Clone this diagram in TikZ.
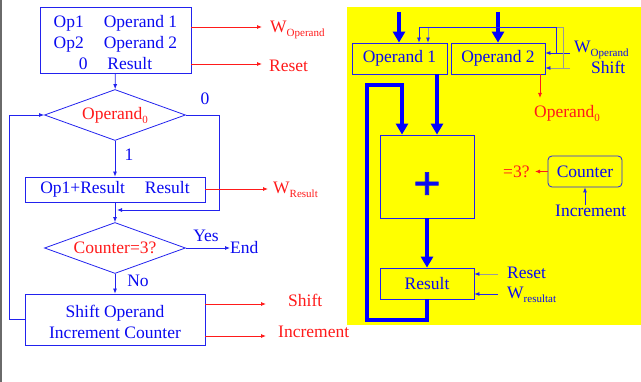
\documentclass[tikz,border=0pt]{standalone}
\usepackage{fontspec}
\setmainfont{Liberation Serif}
\newfontface\plusface{Liberation Serif Bold}[FakeBold=1.5]
\usetikzlibrary{arrows.meta,positioning,shapes.geometric,calc}
\definecolor{flowblue}{HTML}{2222EE}
\definecolor{textblue}{HTML}{0A0AF0}
\definecolor{sigred}{HTML}{FF1A1A}
\definecolor{padyellow}{HTML}{FFFF00}
\definecolor{wiregray}{HTML}{9A9A9A}
\definecolor{edgegray}{HTML}{6A6A6A}
\newcommand{\lowidx}[1]{\raisebox{-4pt}{\fontsize{11}{11}\selectfont #1}}

\begin{document}
\begin{tikzpicture}[x=1pt,y=-1pt,
  txt/.style={font=\fontsize{17.5}{21}\selectfont},
  stepbox/.style={txt,draw=flowblue,line width=0.8pt,text=textblue,inner sep=0pt,align=center},
  test/.style={txt,diamond,shape aspect=2.8,draw=flowblue,line width=0.8pt,text=sigred,inner sep=0pt,minimum width=141pt,minimum height=51pt},
  reg/.style={txt,draw=flowblue,line width=0.8pt,text=textblue,inner sep=0pt,minimum width=94pt,minimum height=31pt},
  flow/.style={draw=flowblue,line width=0.8pt,-{Latex[length=5pt,width=4pt]}},
  sig/.style={draw=sigred,line width=0.8pt,-{Latex[length=5pt,width=4pt]}},
  ctl/.style={draw=flowblue,line width=0.8pt,-{Latex[length=5pt,width=4pt]}},
  ctlgray/.style={draw=wiregray,line width=0.8pt,-{Latex[length=5pt,width=4pt,color=flowblue]}},
  bus/.style={draw=blue,line width=4pt,-{Triangle[length=11pt,width=12pt]}},
  bluelbl/.style={txt,text=textblue,inner sep=0pt},
  redlbl/.style={txt,text=sigred,inner sep=0pt}
]
\useasboundingbox (0,0) rectangle (641,382);
\draw[edgegray,line width=2pt] (1,0) -- (1,382);
\fill[padyellow] (347,7) rectangle (641,325);

% flowchart
\node[stepbox,minimum width=151pt,minimum height=66pt] (init) at (115.5,40) {\rule{0pt}{17pt}Op1\hspace{20pt}Operand 1\\Op2\hspace{20pt}Operand 2\\0\hspace{20pt}Result};
\node[test] (odd) at (115,115) {Operand\lowidx{0}};
\node[stepbox,minimum width=180pt,minimum height=25pt] (acc) at (115,189.5) {Op1+Result\hspace{20pt}Result};
\node[test] (cnt) at (115,248) {Counter=3?};
\node[stepbox,minimum width=180pt,minimum height=51pt] (shift) at (115,319.5) {\rule{0pt}{17pt}Shift Operand\\Increment Counter};

\node[bluelbl] (zero) at (205,99) {0};
\node[bluelbl] (one) at (129,155) {1};
\node[bluelbl] (yes) at (206,236) {Yes};
\node[bluelbl,anchor=west] (fin) at (230,248) {End};
\node[bluelbl] (no) at (138,281) {No};

\coordinate (join) at (117,210);
\draw[flow] (init) -- (odd);
\draw[flow] (odd) -- (acc);
\draw[flow] (odd.east) -- ++(33,0) |- (join);
\draw[flow] (acc) -- (cnt);
\draw[flow] (cnt.east) -- (fin.west);
\draw[flow] (cnt) -- (shift);
\draw[flow] (shift.west) -- ++(-15,0) |- (odd.west);

% control outputs
\coordinate (wopin) at (262,27);
\coordinate (rstin) at (262,64);
\coordinate (wresin) at (268,189);
\coordinate (shin) at (266,304);
\coordinate (incin) at (266,336);
\node[redlbl,anchor=base west] (wop) at (270,33) {W\lowidx{Operand}};
\node[redlbl,anchor=base west] (rst) at (269,72) {Reset};
\node[redlbl,anchor=base west] (wres) at (273,194) {W\lowidx{Result}};
\node[redlbl,anchor=base west] (sh) at (288,307) {Shift};
\node[redlbl,anchor=base west] (inc) at (278,338) {Increment};
\draw[sig] (init.east |- wopin) -- (wopin);
\draw[sig] (init.east |- rstin) -- (rstin);
\draw[sig] (acc.east |- wresin) -- (wresin);
\draw[sig] (shift.east |- shin) -- (shin);
\draw[sig] (shift.east |- incin) -- (incin);

% datapath
\node[reg,minimum width=95pt] (opa) at (399.5,58.5) {Operand 1};
\node[reg] (opb) at (498,58.5) {Operand 2};
\node[reg,minimum height=83pt] (add) at (427,176.5) {\raisebox{-23pt}[0pt][0pt]{\fontsize{48}{48}\plusface +}};
\node[reg] (res) at (427,283.5) {Result};
\node[reg,rounded corners=4pt,minimum width=74pt] (ctr) at (585,171.5) {Counter};

\coordinate (ina) at (399,12);
\coordinate (inb) at (498,12);
\coordinate (oaout) at ([xshift=37.5pt]opa.south);
\coordinate (fbbot) at (367,320);
\coordinate (fbtop) at (402,85);
\draw[bus] (ina) -- (ina |- opa.north);
\draw[bus] (inb) -- (inb |- opb.north);
\draw[bus] (oaout) -- (oaout |- add.north);
\draw[bus] (add) -- (res);
\draw[bus] (res.south) |- (fbbot) |- (fbtop) -- (fbtop |- add.north);

\coordinate (wopsrc) at (570,53);
\coordinate (shsrc) at (570,68);
\coordinate (wopa) at (419,27);
\coordinate (shopa) at (428,27);
\draw[ctl] (wopsrc) -- (opb.east |- wopsrc);
\draw[ctlgray] (shsrc) -- (opb.east |- shsrc);
\draw[ctlgray] (563,68) |- (shopa) -- (shopa |- opa.north);
\draw[ctl] (556,53) |- (wopa) -- (wopa |- opa.north);
\node[bluelbl,anchor=base west] (wopl) at (574,53) {W\lowidx{Operand}};
\node[bluelbl,anchor=base west] (shl) at (591,74) {Shift};

\coordinate (lsbin) at (540,98);
\draw[sig] (lsbin |- opb.south) -- (lsbin);
\node[redlbl,anchor=base west] (lsb) at (534,118) {Operand\lowidx{0}};

\coordinate (eqin) at (535,172);
\node[redlbl,anchor=base west] (eq) at (503,178) {=3?};
\draw[sig] (ctr.west) -- (eqin |- ctr.west);
\node[bluelbl,anchor=base west] (incl) at (555,217) {Increment};
\draw[ctl] (ctr.south |- incl.north) -- (ctr.south);

\coordinate (rstsrc) at (498,274);
\coordinate (wrsrc) at (498,294);
\node[bluelbl,anchor=base west] (rstl) at (507,279) {Reset};
\node[bluelbl,anchor=base west] (wrl) at (507,299) {W\lowidx{resultat}};
\draw[ctlgray] (rstsrc) -- (res.east |- rstsrc);
\draw[ctl] (wrsrc) -- (res.east |- wrsrc);
\end{tikzpicture}
\end{document}
